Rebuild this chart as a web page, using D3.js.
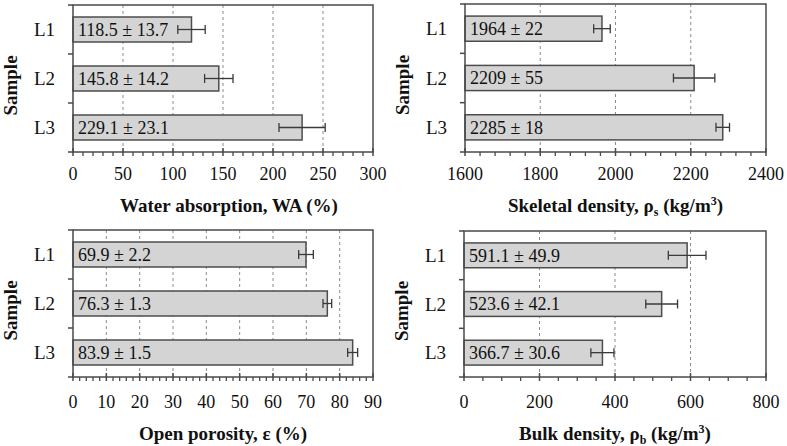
<!DOCTYPE html>
<html>
<head>
<meta charset="utf-8">
<script src="https://cdn.jsdelivr.net/npm/d3@7"></script>
<style>
  body { margin: 0; background: #fff; }
  svg text { font-family: "Liberation Serif", "Times New Roman", Times, Tinos, "DejaVu Serif", serif; }
</style>
</head>
<body>
<svg id="chart" width="787" height="446"></svg>
<script>
// ---- data ----
const categories = ["L1", "L2", "L3"];

const waValues = [118.5, 145.8, 229.1];
const waErrors = [13.7, 14.2, 23.1];
const waTicks = [0, 50, 100, 150, 200, 250, 300];

const skValues = [1964, 2209, 2285];
const skErrors = [22, 55, 18];
const skTicks = [1600, 1800, 2000, 2200, 2400];

const poValues = [69.9, 76.3, 83.9];
const poErrors = [2.2, 1.3, 1.5];
const poTicks = [0, 10, 20, 30, 40, 50, 60, 70, 80, 90];

const buValues = [591.1, 523.6, 366.7];
const buErrors = [49.9, 42.1, 30.6];
const buTicks = [0, 200, 400, 600, 800];

// ---- panels (layout) ----
const panels = [
  { values: waValues, errors: waErrors, ticks: waTicks, minorStep: 10, decimals: 1,
    title: [["Water absorption, WA (%)", ""]],
    x0: 73, x1: 373, y0: 5, y1: 152, titleOff: 60, labelOff: 28, titleShift: 6 },
  { values: skValues, errors: skErrors, ticks: skTicks, minorStep: 40, decimals: 0,
    title: [["Skeletal density, ρ", ""], ["s", "sub"], [" (kg/m", ""], ["3", "sup"], [")", ""]],
    x0: 465, x1: 766, y0: 4, y1: 152, titleOff: 60, labelOff: 28, titleShift: 0 },
  { values: poValues, errors: poErrors, ticks: poTicks, minorStep: 2, decimals: 1,
    title: [["Open porosity, ε (%)", ""]],
    x0: 73, x1: 373, y0: 230, y1: 377, titleOff: 63, labelOff: 31, titleShift: 0 },
  { values: buValues, errors: buErrors, ticks: buTicks, minorStep: 50, decimals: 1,
    title: [["Bulk density, ρ", ""], ["b", "sub"], [" (kg/m", ""], ["3", "sup"], [")", ""]],
    x0: 464, x1: 766, y0: 231, y1: 377, titleOff: 63, labelOff: 31, titleShift: 0 }
];

const FONT = "'Liberation Serif', 'Times New Roman', Times, Tinos, 'DejaVu Serif', serif";
const svg = d3.select("#chart").attr("font-family", FONT);
const axisColor = "#4a4a4a";

panels.forEach(p => {
  const g = svg.append("g");
  const x = d3.scaleLinear()
    .domain([p.ticks[0], p.ticks[p.ticks.length - 1]])
    .range([p.x0, p.x1]);
  const y = d3.scaleBand()
    .domain(categories)
    .range([p.y0, p.y1])
    .paddingInner(0.49)
    .paddingOuter(0.245);

  // gridlines
  g.selectAll("line.grid")
    .data(p.ticks.slice(1, -1))
    .join("line")
    .attr("x1", d => x(d)).attr("x2", d => x(d))
    .attr("y1", p.y0).attr("y2", p.y1)
    .attr("stroke", "#8c8c8c")
    .attr("stroke-width", 1)
    .attr("stroke-dasharray", "3,3");

  // bars
  const data = categories.map((c, i) => ({ c, v: p.values[i], e: p.errors[i] }));
  g.selectAll("rect.bar")
    .data(data)
    .join("rect")
    .attr("x", x(p.ticks[0]))
    .attr("y", d => y(d.c))
    .attr("width", d => x(d.v) - x(p.ticks[0]))
    .attr("height", y.bandwidth())
    .attr("fill", "#d4d4d4")
    .attr("stroke", "#4d4d4d")
    .attr("stroke-width", 1.5);

  // error bars
  const eb = g.selectAll("g.err").data(data).join("g").attr("stroke", "#3a3a3a").attr("stroke-width", 1.3);
  eb.append("line")
    .attr("x1", d => x(d.v - d.e)).attr("x2", d => x(d.v + d.e))
    .attr("y1", d => y(d.c) + y.bandwidth() / 2).attr("y2", d => y(d.c) + y.bandwidth() / 2);
  eb.append("line")
    .attr("x1", d => x(d.v - d.e)).attr("x2", d => x(d.v - d.e))
    .attr("y1", d => y(d.c) + y.bandwidth() / 2 - 4.5).attr("y2", d => y(d.c) + y.bandwidth() / 2 + 4.5);
  eb.append("line")
    .attr("x1", d => x(d.v + d.e)).attr("x2", d => x(d.v + d.e))
    .attr("y1", d => y(d.c) + y.bandwidth() / 2 - 4.5).attr("y2", d => y(d.c) + y.bandwidth() / 2 + 4.5);

  // value labels
  g.selectAll("text.val")
    .data(data)
    .join("text")
    .attr("x", x(p.ticks[0]) + 5)
    .attr("y", d => y(d.c) + y.bandwidth() / 2)
    .attr("dy", "0.35em")
    .attr("font-size", 18)
    .attr("fill", "#111")
    .text(d => d.v.toFixed(p.decimals) + " ± " + d.e.toFixed(p.decimals));

  // frame
  g.append("rect")
    .attr("x", p.x0).attr("y", p.y0)
    .attr("width", p.x1 - p.x0).attr("height", p.y1 - p.y0)
    .attr("fill", "none")
    .attr("stroke", axisColor)
    .attr("stroke-width", 1.5);

  // minor ticks
  const minors = d3.range(p.ticks[0], p.ticks[p.ticks.length - 1] + 1e-9, p.minorStep)
    .filter(v => !p.ticks.some(t => Math.abs(t - v) < 1e-9));
  g.selectAll("line.minor")
    .data(minors)
    .join("line")
    .attr("x1", d => x(d)).attr("x2", d => x(d))
    .attr("y1", p.y1).attr("y2", p.y1 + 4)
    .attr("stroke", axisColor).attr("stroke-width", 1.3);

  // major ticks (crossing)
  g.selectAll("line.major")
    .data(p.ticks)
    .join("line")
    .attr("x1", d => x(d)).attr("x2", d => x(d))
    .attr("y1", p.y1 - 4).attr("y2", p.y1 + 4)
    .attr("stroke", axisColor).attr("stroke-width", 1.5);

  // x tick labels
  g.selectAll("text.tick")
    .data(p.ticks)
    .join("text")
    .attr("x", d => x(d))
    .attr("y", p.y1 + p.labelOff)
    .attr("text-anchor", "middle")
    .attr("font-size", 18)
    .attr("fill", "#111")
    .text(d => d);

  // y ticks at band boundaries
  const bounds = d3.range(categories.length + 1).map(i => p.y0 + i * y.step());
  g.selectAll("line.ytick")
    .data(bounds)
    .join("line")
    .attr("x1", p.x0 - 5).attr("x2", p.x0)
    .attr("y1", d => d).attr("y2", d => d)
    .attr("stroke", axisColor).attr("stroke-width", 1.5);

  // category labels
  g.selectAll("text.cat")
    .data(categories)
    .join("text")
    .attr("x", p.x0 - 18)
    .attr("y", d => y(d) + y.bandwidth() / 2)
    .attr("dy", "0.35em")
    .attr("text-anchor", "end")
    .attr("font-size", 19)
    .attr("fill", "#111")
    .text(d => d);

  // y axis title
  g.append("text")
    .attr("transform", `translate(${p.x0 - 56},${(p.y0 + p.y1) / 2 + 7}) rotate(-90)`)
    .attr("text-anchor", "middle")
    .attr("font-size", 19)
    .attr("font-weight", "bold")
    .attr("fill", "#111")
    .text("Sample");

  // x axis title
  const t = g.append("text")
    .attr("x", (p.x0 + p.x1) / 2 + p.titleShift)
    .attr("y", p.y1 + p.titleOff)
    .attr("text-anchor", "middle")
    .attr("font-size", 19)
    .attr("font-weight", "bold")
    .attr("fill", "#111");
  p.title.forEach(([s, kind], i) => {
    const prev = i > 0 ? p.title[i - 1][1] : "";
    const ts = t.append("tspan").text(s);
    if (kind === "sub") ts.attr("font-size", 12).attr("dy", 4);
    else if (kind === "sup") ts.attr("font-size", 12).attr("dy", -7);
    else if (prev === "sub") ts.attr("dy", -4);
    else if (prev === "sup") ts.attr("dy", 7);
  });
});
</script>
</body>
</html>
